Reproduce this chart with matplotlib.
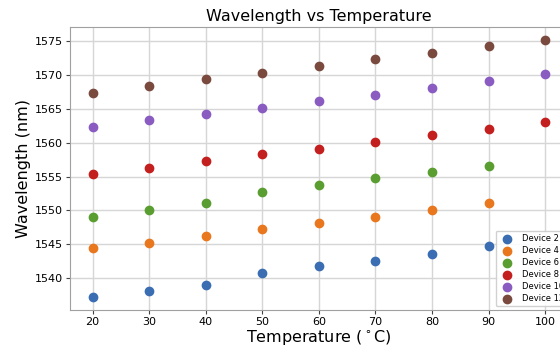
import matplotlib
matplotlib.use("Agg")
import matplotlib.pyplot as plt

# temperatures (C)
temps = [20, 30, 40, 50, 60, 70, 80, 90, 100]

# wavelength readings (nm) per device
device_2 = [1537.2, 1538.1, 1539.0, 1540.8, 1541.8, 1542.6, 1543.6, 1544.7]
device_4 = [1544.4, 1545.2, 1546.2, 1547.2, 1548.2, 1549.1, 1550.1, 1551.1]
device_6 = [1549.1, 1550.1, 1551.1, 1552.8, 1553.8, 1554.8, 1555.7, 1556.6]
device_8 = [1555.4, 1556.3, 1557.3, 1558.3, 1559.1, 1560.1, 1561.2, 1562.1, 1563.1]
device_10 = [1562.3, 1563.3, 1564.2, 1565.2, 1566.1, 1567.1, 1568.1, 1569.1, 1570.1]
device_12 = [1567.4, 1568.4, 1569.4, 1570.3, 1571.4, 1572.3, 1573.3, 1574.3, 1575.2]

labels = ["Device 2", "Device 4", "Device 6", "Device 8", "Device 10", "Device 12"]
series = [device_2, device_4, device_6, device_8, device_10, device_12]
colors = ["#3b6db3", "#e8771e", "#5a9e31", "#c41f1f", "#8a5cc2", "#7b4a3f"]

fig = plt.figure(figsize=(5.6, 3.5), dpi=100)
# original plot was wider, right side is cut off
ax = fig.add_axes([0.125, 0.1143, 0.889, 0.8086])

for vals, lab, col in zip(series, labels, colors):
    ax.scatter(temps[:len(vals)], vals, s=36, color=col, label=lab, zorder=3)

ax.set_title("Wavelength vs Temperature", fontsize=11.5, pad=4)
ax.set_xlabel(r"Temperature ($^\circ$C)", fontsize=11.5, labelpad=1)
ax.set_ylabel("Wavelength (nm)", fontsize=11.5, labelpad=3)
ax.set_xticks(range(20, 101, 10))
ax.set_yticks(range(1540, 1576, 5))
ax.tick_params(labelsize=8, length=3, pad=2, color="#444444")

ax.grid(True, color="#d6d6d6", linewidth=1)
ax.set_axisbelow(True)
for sp in ax.spines.values():
    sp.set_color("#a0a0a0")

ax.legend(loc="lower right", bbox_to_anchor=(0.999, 0.014), borderaxespad=0,
          fontsize=6, frameon=True, framealpha=0.9, edgecolor="#cccccc",
          handletextpad=0.75, labelspacing=0.35, borderpad=0.4)

fig.savefig("out.png", dpi=100)
